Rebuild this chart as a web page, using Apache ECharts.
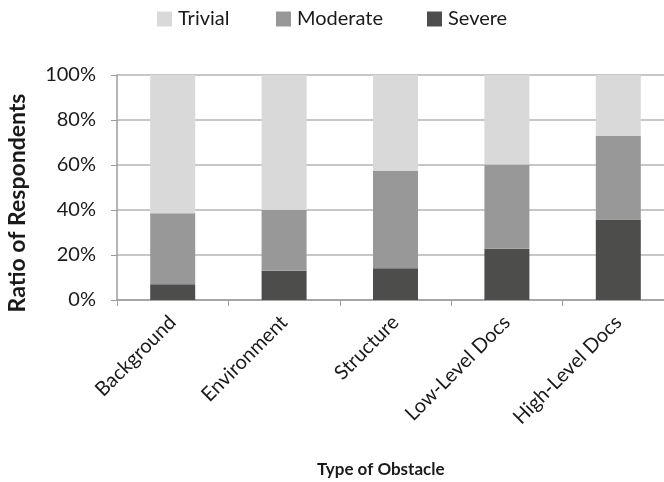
<!DOCTYPE html>
<html>
<head>
<meta charset="utf-8">
<script src="https://cdn.jsdelivr.net/npm/echarts@6/dist/echarts.min.js"></script>
<style>
  html, body { margin: 0; padding: 0; background: #fff; }
  #chart { width: 664px; height: 482px; }
</style>
</head>
<body>
<div id="chart"></div>
<script>
// Obstacle categories along the x axis
const categories = ['Background', 'Environment', 'Structure', 'Low-Level Docs', 'High-Level Docs'];

// Share of respondents (%) rating each obstacle, stacked bottom to top
const severe   = [7.0, 13.0, 14.1, 22.8, 35.8];
const moderate = [31.6, 27.0, 43.2, 37.4, 37.1];
const trivial  = [61.4, 60.0, 42.7, 39.8, 27.1];

// Y axis tick values
const yTicks = [0, 20, 40, 60, 80, 100];

const FONT = 'Lato';
const TEXT = '#1a1a1a';

const chart = echarts.init(document.getElementById('chart'), null, { renderer: 'canvas' });

function legendAt(name, left) {
  return {
    data: [name],
    left: left,
    top: 9,
    padding: 0,
    itemWidth: 15,
    itemHeight: 15,
    itemGap: 5,
    icon: 'rect',
    textStyle: { fontFamily: FONT, fontSize: 20, color: TEXT, padding: [0, 0, 0, 1] },
    selectedMode: false
  };
}

const option = {
  animation: false,
  backgroundColor: '#ffffff',
  color: ['#4d4d4b', '#989898', '#d9d9d9'],
  legend: [legendAt('Trivial', 157), legendAt('Moderate', 276), legendAt('Severe', 427)],
  title: [{
    text: 'Type of Obstacle',
    left: 317,
    top: 461,
    padding: 0,
    textStyle: { fontFamily: FONT, fontSize: 17, fontWeight: 'bold', color: TEXT }
  }],
  graphic: [{
    type: 'text',
    rotation: Math.PI / 2,
    x: 18,
    y: 203,
    style: {
      text: 'Ratio of Respondents',
      fontFamily: FONT,
      fontSize: 23,
      fontWeight: 'bold',
      fill: TEXT,
      align: 'center',
      verticalAlign: 'middle'
    }
  }],
  grid: {
    left: 117, top: 75, width: 557, height: 225,
    containLabel: false,
    outerBoundsMode: 'none'
  },
  xAxis: {
    type: 'category',
    data: categories,
    axisLine: { show: true, lineStyle: { color: '#9c9c9c', width: 1.5 } },
    axisTick: { show: true, length: 6, lineStyle: { color: '#9c9c9c' } },
    axisLabel: {
      rotate: 45,
      fontFamily: FONT,
      fontSize: 20,
      color: TEXT,
      margin: 19
    }
  },
  yAxis: {
    type: 'value',
    min: 0,
    max: 100,
    interval: 20,
    axisLine: { show: true, lineStyle: { color: '#9c9c9c', width: 1.5 } },
    axisTick: { show: true, length: 6, lineStyle: { color: '#9c9c9c' } },
    splitLine: { show: true, lineStyle: { color: '#b4b4b4', width: 1.5 } },
    axisLabel: {
      fontFamily: FONT,
      fontSize: 20,
      color: TEXT,
      margin: 21,
      formatter: v => (yTicks.indexOf(v) >= 0 ? v + '%' : '')
    }
  },
  series: [
    { name: 'Severe', type: 'bar', stack: 'total', data: severe, barWidth: 45 },
    { name: 'Moderate', type: 'bar', stack: 'total', data: moderate, barWidth: 45 },
    { name: 'Trivial', type: 'bar', stack: 'total', data: trivial, barWidth: 45 }
  ]
};

chart.setOption(option);
</script>
</body>
</html>
